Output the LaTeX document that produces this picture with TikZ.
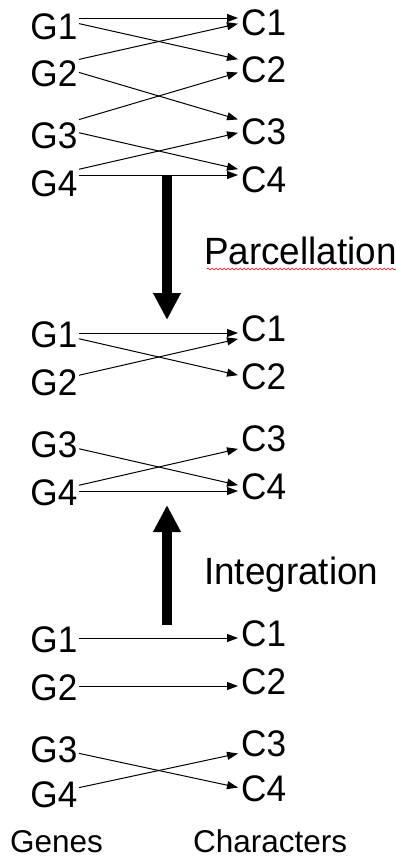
\documentclass[tikz,border=0pt]{standalone}
\usepackage{fontspec}
\usetikzlibrary{arrows.meta,decorations.pathmorphing}

\newfontfamily\labelfont[FakeStretch=0.95]{Liberation Sans}
\newfontfamily\phasefont[FakeStretch=0.97]{Liberation Sans}
\newfontfamily\axisfont{Liberation Sans}

\begin{document}
\begin{tikzpicture}[
  x=1pt, y=-1pt,
  gene/.style={font=\labelfont\fontsize{37}{37}\selectfont, inner xsep=1.5pt, inner ysep=0pt, text depth=0pt, text height=#1, anchor=east},
  gene/.default=28pt,
  trait/.style={font=\labelfont\fontsize{37}{37}\selectfont, inner xsep=3pt, inner ysep=0pt, text depth=0pt, text height=#1, anchor=west},
  trait/.default=16pt,
  phase/.style={font=\phasefont\fontsize{38}{38}\selectfont, inner sep=0pt, anchor=base west},
  axis/.style={font=\axisfont\fontsize{31.5}{31.5}\selectfont, inner sep=0pt, anchor=base west},
  link/.style={-{Triangle[length=11pt,width=8pt]}, line width=1pt},
  bigarrow/.style={-{Triangle[length=27pt,width=26pt]}, line width=10pt},
  spell/.style={red, line width=0.6pt, decorate, decoration={snake, segment length=4pt, amplitude=1pt}}
]
\useasboundingbox (0,0) rectangle (396,863);

% Fully connected genotype-phenotype map
\node[gene=42pt] (tg1) at (79,18) {G1};
\node[gene=42pt] (tg2) at (79,65) {G2};
\node[gene=42pt] (tg3) at (79,127) {G3};
\node[gene=42pt] (tg4) at (79,175) {G4};
\node[trait=34pt] (tc1) at (238,18) {C1};
\node[trait=34pt] (tc2) at (238,65) {C2};
\node[trait=34pt] (tc3) at (238,127) {C3};
\node[trait=34pt] (tc4) at (238,175) {C4};

\draw[link] (tg1) -- (tc1);
\draw[link] (tg1) -- (tc2);
\draw[link] (tg2) -- (tc1);
\draw[link] (tg2) -- (tc3);
\draw[link] (tg3) -- (tc2);
\draw[link] (tg3) -- (tc4);
\draw[link] (tg4) -- (tc3);
\draw[link] (tg4) -- (tc4);

% Two modules
\node[gene] (mg1) at (79,333) {G1};
\node[gene] (mg2) at (79,381) {G2};
\node[gene] (mg3) at (79,443) {G3};
\node[gene] (mg4) at (79,491) {G4};
\node[trait] (mc1) at (238,333) {C1};
\node[trait] (mc2) at (238,381) {C2};
\node[trait] (mc3) at (238,443) {C3};
\node[trait] (mc4) at (238,491) {C4};

\draw[link] (mg1) -- (mc1);
\draw[link] (mg1) -- (mc2);
\draw[link] (mg2) -- (mc1);
\draw[link] (mg3) -- (mc4);
\draw[link] (mg4) -- (mc3);
\draw[link] (mg4) -- (mc4);

% Loosely connected map
\node[gene] (bg1) at (79,638) {G1};
\node[gene] (bg2) at (79,686) {G2};
\node[gene] (bg3) at (79,748) {G3};
\node[gene] (bg4) at (79,793) {G4};
\node[trait] (bc1) at (238,638) {C1};
\node[trait] (bc2) at (238,686) {C2};
\node[trait] (bc3) at (238,748) {C3};
\node[trait] (bc4) at (238,793) {C4};

\draw[link] (bg1) -- (bc1);
\draw[link] (bg2) -- (bc2);
\draw[link] (bg3) -- (bc4);
\draw[link] (bg4) -- (bc3);

% Transitions
\coordinate (down from) at (167,175);
\coordinate (down to) at (167,320);
\coordinate (up from) at (167,625);
\coordinate (up to) at (167,505);
\draw[bigarrow] (down from) -- (down to);
\draw[bigarrow] (up from) -- (up to);

\node[phase] (parcel) at (204,264) {Parcellation};
\draw[spell] ([xshift=3pt,yshift=-5pt]parcel.base west) -- ([yshift=-5pt]parcel.base east);
\node[phase] (integ) at (204,584) {Integration};

% Labels
\node[axis] (genes) at (10,852) {Genes};
\node[axis] (chars) at (193,852) {Characters};
\end{tikzpicture}
\end{document}
